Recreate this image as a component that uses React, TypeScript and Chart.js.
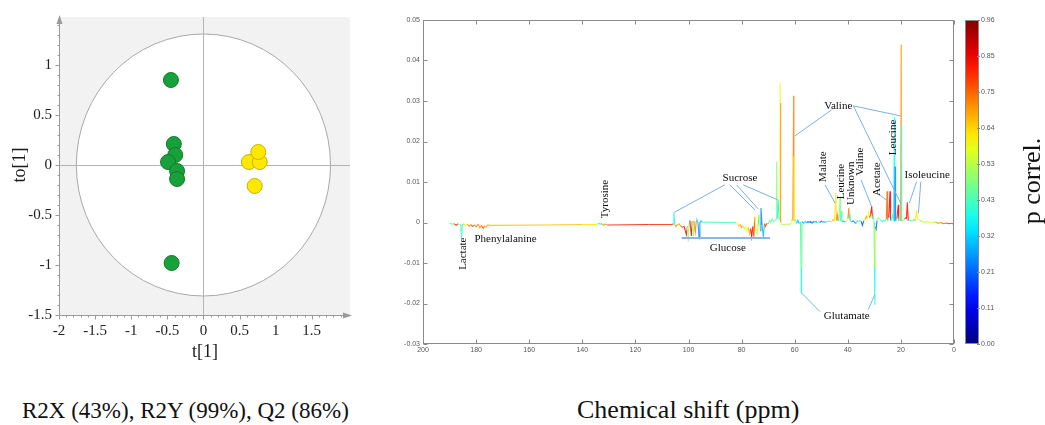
import React, { useEffect, useRef } from "react";
import { Chart, registerables } from "chart.js";

Chart.register(...registerables);

const SERIF = '"Liberation Serif", "Times New Roman", Times, serif';
const SANS = '"Liberation Sans", Arial, Helvetica, sans-serif';

// ---------- OPLS-DA score plot ----------
const groupAT = [-0.45, -0.41, -0.39, -0.49, -0.365, -0.365, -0.44];
const groupATo = [0.85, 0.21, 0.1, 0.03, -0.06, -0.14, -0.98];
const groupBT = [0.63, 0.78, 0.76, 0.71];
const groupBTo = [0.03, 0.03, 0.13, -0.21];
const scoreXTicks = [-2, -1.5, -1, -0.5, 0, 0.5, 1, 1.5];
const scoreYTicks = [-1.5, -1, -0.5, 0, 0.5, 1];
const scoreXRange = [-2, 2.03];
const scoreYRange = [-1.5, 1.48];
const ellipseRadii = [1.76, 1.31];

// ---------- S-line loadings (13C NMR) ----------
const shiftPpm = [
  190, 189, 188.3, 187.5, 186.8, 186.2, 185.8, 185.5, 185.2, 184.6,
  184, 183.3, 182.6, 182, 181.3, 180.6, 180, 179.2, 178.6, 178,
  177.3, 176.8, 176.2, 175.6, 175, 155, 140, 134.5, 134, 133.3,
  132.6, 132, 131.2, 130.5, 129.5, 115, 106.5, 105.8, 105.5, 105.2,
  104.7, 104.2, 103.6, 103, 102.3, 101.7, 101.2, 100.8, 100.4, 100.1,
  99.8, 99.5, 99.2, 98.9, 98.6, 98.3, 98, 97.7, 97.4, 97.1,
  96.8, 96.4, 96, 95.7, 95.3, 95, 82, 81.5, 81, 80.5,
  80, 79.5, 79, 78.5, 78, 77.5, 77, 76.6, 76.2, 75.8,
  75.4, 75, 74.6, 74.2, 73.8, 73.4, 73, 72.7, 72.3, 71.8,
  71.4, 71, 70.5, 70, 69.5, 69, 68.5, 68, 67.5, 67,
  66.8, 66.6, 66.2, 65.9, 65.6, 65.5, 65.45, 65.4, 65.2, 64.8,
  61.5, 61, 60.7, 60.4, 60.3, 60.25, 60.1, 59.7, 59.3, 58.8,
  58.3, 57.8, 57.5, 57.4, 57.35, 57.2, 56.5, 56, 55.5, 55,
  54.5, 54, 53.5, 53, 52.5, 52, 51.5, 51, 50.5, 50,
  49.5, 49, 48.5, 48, 47.5, 47, 46.5, 46, 45.5, 45,
  44.5, 44.3, 44, 43.7, 43.3, 42.9, 42.7, 42.5, 42.2, 41.5,
  41, 40.5, 40, 39.6, 39.4, 39.2, 39, 38.5, 38, 37.5,
  37, 36.5, 36, 35.5, 35, 34.5, 34, 33.5, 33, 32.6,
  32.2, 31.8, 31.4, 31, 30.7, 30.4, 30.1, 29.8, 29.75, 29.7,
  29.6, 29.3, 29, 28.5, 28, 27.5, 27, 26.5, 26, 25.5,
  25.2, 25, 24.6, 24.1, 23.9, 23.5, 23.2, 22.8, 22.4, 22.3,
  22.2, 22, 21.5, 21, 20.8, 20.5, 20.1, 19.9, 19.85, 19.8,
  19.6, 19.2, 18.8, 18.2, 17.9, 17.6, 17.2, 16.5, 16, 15.5,
  15, 14.5, 14.1, 13.8, 13.3, 12.8, 12, 11, 10, 9,
  8, 7, 6, 5, 4, 3, 2, 1, 0,
];
const loading = [
  -0.0002, -0.0004, -0.0003, -0.0007, -0.0003, -0.0005, -0.0006, -0.004, -0.0005, -0.0003,
  -0.0008, -0.0004, -0.0009, -0.0005, -0.001, -0.0006, -0.0011, -0.0004, -0.0013, -0.0007,
  -0.0015, -0.0008, -0.0012, -0.0005, -0.0007, -0.0006, -0.0005, -0.0005, -0.0002, -0.0004,
  -0.0003, -0.0007, -0.0004, -0.0006, -0.0006, -0.0005, -0.0005, -0.0004, 0.0025, -0.0005,
  -0.001, -0.0006, -0.0003, -0.0008, -0.0012, -0.0009, -0.002, -0.003, -0.001, -0.0047,
  -0.0002, 0.0005, -0.0015, -0.0033, 0.0003, -0.0032, 0.0004, -0.001, -0.0023, 0.0003,
  0.0006, -0.0002, -0.004, 0.0001, 0.0004, 0.0001, 0.0, -0.0003, -0.0009, -0.0005,
  -0.0012, -0.0008, -0.0016, -0.001, -0.0022, -0.0012, -0.0028, -0.0015, -0.0036, -0.001,
  -0.0035, 0.0014, -0.0015, -0.003, -0.0008, 0.0019, -0.002, 0.0036, -0.0006, -0.0037,
  -0.0003, -0.001, -0.0002, -0.0004, 0.0005, 0.0001, 0.0009, 0.0002, 0.0004, 0.0008,
  0.015, 0.001, 0.0056, 0.0008, 0.001, 0.0344, 0.001, 0.0295, 0.0, -0.0005,
  -0.0004, 0.0008, 0.0005, 0.0313, 0.001, 0.0163, 0.0003, 0.0006, -0.0002, 0.0005,
  -0.0003, 0.0001, -0.0174, -0.0003, -0.0115, 0.0002, -0.0002, 0.0003, -0.0001, 0.0002,
  0.0, 0.0003, -0.0002, 0.0002, 0.0001, 0.0003, -0.0001, 0.0002, 0.0, 0.0003,
  0.0001, 0.0002, 0.0, 0.0003, 0.0002, 0.0004, 0.0001, 0.0003, 0.0008, 0.0003,
  0.0073, 0.0005, 0.002, 0.0004, 0.0009, 0.0064, 0.0004, 0.0028, 0.0002, 0.0004,
  0.0001, 0.0003, 0.001, 0.0036, 0.0008, 0.0022, 0.0003, 0.0002, 0.0004, 0.0001,
  -0.0003, 0.0004, 0.0002, 0.0005, 0.0003, -0.0007, 0.0004, 0.0008, 0.0015, 0.0009,
  0.0025, 0.0012, 0.002, 0.004, 0.001, 0.0018, 0.0, -0.0203, -0.0005, -0.0113,
  -0.001, -0.0016, 0.0005, 0.0012, 0.0008, 0.0005, 0.0002, 0.0005, 0.0003, 0.0008,
  0.0077, 0.0005, 0.0012, 0.0077, 0.0004, 0.001, 0.0018, 0.0005, 0.026, 0.0003,
  0.0138, 0.0003, 0.001, 0.0044, 0.0005, 0.0015, 0.0004, 0.0439, 0.001, 0.024,
  0.0003, 0.0005, 0.0008, 0.0012, 0.0009, 0.005, 0.0004, 0.0006, 0.0003, 0.0005,
  0.0008, 0.0005, 0.0031, 0.001, 0.0008, 0.0004, 0.0003, 0.0001, 0.0002, 0.0,
  -0.0001, 0.0001, -0.0002, 0.0, -0.0003, -0.0001, -0.0003, -0.0002, -0.0004,
];
const pCorr = [
  0.35, 0.45, 0.75, 0.8, 0.4, 0.55, 0.38, 0.42, 0.42, 0.35,
  0.6, 0.8, 0.7, 0.62, 0.78, 0.65, 0.72, 0.6, 0.7, 0.62,
  0.75, 0.58, 0.68, 0.45, 0.66, 0.66, 0.63, 0.62, 0.4, 0.35,
  0.5, 0.7, 0.72, 0.7, 0.82, 0.82, 0.8, 0.4, 0.37, 0.37,
  0.7, 0.68, 0.55, 0.7, 0.75, 0.8, 0.85, 0.86, 0.8, 0.5,
  0.45, 0.38, 0.82, 0.84, 0.4, 0.5, 0.35, 0.7, 0.72, 0.33,
  0.3, 0.35, 0.25, 0.3, 0.3, 0.42, 0.42, 0.6, 0.65, 0.62,
  0.7, 0.55, 0.62, 0.75, 0.58, 0.72, 0.68, 0.42, 0.85, 0.5,
  0.78, 0.22, 0.6, 0.55, 0.65, 0.35, 0.62, 0.25, 0.5, 0.3,
  0.6, 0.78, 0.8, 0.7, 0.45, 0.4, 0.45, 0.42, 0.45, 0.45,
  0.48, 0.45, 0.36, 0.4, 0.4, 0.58, 0.6, 0.7, 0.55, 0.52,
  0.52, 0.6, 0.65, 0.72, 0.7, 0.62, 0.6, 0.45, 0.35, 0.3,
  0.4, 0.42, 0.38, 0.4, 0.5, 0.35, 0.25, 0.35, 0.3, 0.2,
  0.4, 0.25, 0.33, 0.22, 0.4, 0.3, 0.25, 0.45, 0.3, 0.22,
  0.4, 0.3, 0.25, 0.35, 0.3, 0.45, 0.62, 0.5, 0.65, 0.6,
  0.62, 0.55, 0.72, 0.4, 0.35, 0.48, 0.4, 0.42, 0.35, 0.3,
  0.25, 0.4, 0.6, 0.72, 0.45, 0.38, 0.35, 0.3, 0.25, 0.35,
  0.2, 0.4, 0.3, 0.45, 0.35, 0.2, 0.4, 0.62, 0.7, 0.55,
  0.6, 0.72, 0.8, 0.86, 0.6, 0.45, 0.3, 0.37, 0.4, 0.6,
  0.25, 0.22, 0.42, 0.5, 0.45, 0.35, 0.3, 0.4, 0.35, 0.45,
  0.75, 0.6, 0.4, 0.85, 0.5, 0.35, 0.4, 0.3, 0.38, 0.3,
  0.25, 0.3, 0.4, 0.85, 0.5, 0.45, 0.35, 0.7, 0.6, 0.38,
  0.3, 0.45, 0.5, 0.75, 0.7, 0.83, 0.45, 0.4, 0.35, 0.5,
  0.45, 0.6, 0.62, 0.55, 0.6, 0.45, 0.55, 0.4, 0.55, 0.5,
  0.6, 0.45, 0.7, 0.5, 0.75, 0.55, 0.8, 0.65, 0.78,
];
const shiftTicks = [200, 180, 160, 140, 120, 100, 80, 60, 40, 20, 0];
const loadingTicks = [-0.03, -0.02, -0.01, 0, 0.01, 0.02, 0.03, 0.04, 0.05];
const corrMax = 0.96;
const corrTickValues = [0, 0.1067, 0.2133, 0.32, 0.4267, 0.5333, 0.64, 0.7467, 0.8533, 0.96];
const corrTickLabels = ["0.00", "0.11", "0.21", "0.32", "0.43", "0.53", "0.64", "0.75", "0.85", "0.96"];

// metabolite labels (ppm, loading, vertical?)
const labelText = ["Lactate", "Phenylalanine", "Tyrosine", "Sucrose", "Glucose", "Valine", "Malate", "Leucine", "Unknown", "Valine", "Acetate", "Leucine", "Isoleucine", "Glutamate"];
const labelPpm = [184.9, 168.9, 131.5, 80.6, 85.2, 43.6, 49.3, 42.7, 38.9, 35.5, 29.1, 23.1, 10.1, 40.4];
const labelVal = [-0.0077, -0.004, 0.0058, 0.011, -0.0063, 0.0288, 0.0138, 0.0101, 0.0097, 0.015, 0.0107, 0.021, 0.0118, -0.0232];
const labelVertical = [true, false, true, false, false, false, true, true, true, true, true, true, false, false];

// leader lines: from (ppm0, val0) to (ppm1, val1)
const leaderPpm0 = [86.3, 84.4, 81.9, 79.4, 46.1, 37.9, 37.9, 48.6, 35.0, 28.9, 14.1, 12.5, 50.5, 32.3];
const leaderVal0 = [0.0093, 0.0093, 0.0093, 0.0093, 0.0278, 0.0288, 0.0288, 0.0093, 0.0105, 0.0073, 0.0101, 0.0101, -0.022, -0.0215];
const leaderPpm1 = [105.4, 75.0, 73.8, 66.4, 59.9, 19.97, 19.97, 44.8, 31.0, 25.6, 16.8, 13.4, 57.4, 29.8];
const leaderVal1 = [0.0025, 0.0031, 0.0034, 0.0056, 0.0214, 0.0263, 0.0046, 0.0048, 0.0039, 0.0056, 0.0048, 0.0023, -0.0174, -0.0178];
// glucose bracket: ppm from, ppm to, loading level
const glucoseBar = [102.6, 69.3, -0.0038];

function jetRGB(c: number) {
  const t = Math.max(0, Math.min(1, c / corrMax));
  const f = (v: number) => 255 * Math.max(0, Math.min(1, 1.5 - Math.abs(4 * t - v)));
  return [f(3), f(2), f(1)];
}
function jet(c: number) {
  const [r, g, b] = jetRGB(c);
  return `rgb(${Math.round(r)},${Math.round(g)},${Math.round(b)})`;
}
function jetSoft(c: number) {
  const [r, g, b] = jetRGB(c);
  const m = (v: number) => Math.round(v * 0.85 + 255 * 0.15);
  return `rgb(${m(r)},${m(g)},${m(b)})`;
}

const scoreDecor = {
  id: "scoreDecor",
  beforeDatasetsDraw(chart: any) {
    const { ctx, chartArea: a, scales } = chart;
    const x = scales.x, y = scales.y;
    ctx.save();
    ctx.fillStyle = "#f2f2f2";
    ctx.fillRect(a.left, a.top, a.right - a.left, a.bottom - a.top);
    const cx = x.getPixelForValue(0), cy = y.getPixelForValue(0);
    const rx = x.getPixelForValue(ellipseRadii[0]) - cx;
    const ry = cy - y.getPixelForValue(ellipseRadii[1]);
    ctx.beginPath();
    ctx.ellipse(cx, cy, rx, ry, 0, 0, Math.PI * 2);
    ctx.fillStyle = "#ffffff";
    ctx.fill();
    ctx.strokeStyle = "#a9a9a9";
    ctx.lineWidth = 1;
    ctx.stroke();
    ctx.strokeStyle = "#b4b4b4";
    ctx.beginPath();
    ctx.moveTo(Math.round(cx) + 0.5, a.top);
    ctx.lineTo(Math.round(cx) + 0.5, a.bottom);
    ctx.moveTo(a.left, Math.round(cy) + 0.5);
    ctx.lineTo(a.right, Math.round(cy) + 0.5);
    ctx.stroke();
    ctx.restore();
  },
  afterDraw(chart: any) {
    const { ctx, chartArea: a, scales } = chart;
    const x = scales.x, y = scales.y;
    ctx.save();
    ctx.strokeStyle = "#9a9a9a";
    ctx.fillStyle = "#9a9a9a";
    ctx.lineWidth = 1;
    const lx = Math.round(a.left) + 0.5, by = Math.round(a.bottom) + 0.5;
    ctx.beginPath();
    ctx.moveTo(lx, a.bottom);
    ctx.lineTo(lx, a.top + 2);
    ctx.moveTo(a.left, by);
    ctx.lineTo(a.right - 2, by);
    scoreYTicks.forEach((v) => { const p = Math.round(y.getPixelForValue(v)) + 0.5; ctx.moveTo(lx - 4, p); ctx.lineTo(lx, p); });
    scoreXTicks.forEach((v) => { const p = Math.round(x.getPixelForValue(v)) + 0.5; ctx.moveTo(p, by); ctx.lineTo(p, by + 4); });
    for (let k = -15; k <= 14; k++) { const p = Math.round(y.getPixelForValue(k / 10)) + 0.5; ctx.moveTo(lx - 2, p); ctx.lineTo(lx, p); }
    for (let k = -20; k <= 19; k++) { const p = Math.round(x.getPixelForValue(k / 10)) + 0.5; ctx.moveTo(p, by); ctx.lineTo(p, by + 2); }
    ctx.stroke();
    ctx.beginPath();
    ctx.moveTo(lx, a.top - 2); ctx.lineTo(lx - 3, a.top + 7); ctx.lineTo(lx + 3, a.top + 7); ctx.closePath();
    ctx.moveTo(a.right + 2, by); ctx.lineTo(a.right - 7, by - 3); ctx.lineTo(a.right - 7, by + 3); ctx.closePath();
    ctx.fill();
    ctx.fillStyle = "#1a1a1a";
    ctx.font = `18px ${SERIF}`;
    ctx.textAlign = "center";
    ctx.textBaseline = "middle";
    ctx.fillText("t[1]", 205, 352);
    ctx.translate(20, 165);
    ctx.rotate(-Math.PI / 2);
    ctx.fillText("to[1]", 0, 0);
    ctx.restore();
  },
};

const loadingDecor = {
  id: "loadingDecor",
  afterDatasetsDraw(chart: any) {
    const { ctx, scales } = chart;
    const x = scales.x, y = scales.y;
    ctx.save();
    ctx.strokeStyle = "#8fb4e0";
    ctx.lineWidth = 2;
    ctx.beginPath();
    ctx.moveTo(x.getPixelForValue(glucoseBar[0]), y.getPixelForValue(glucoseBar[2]));
    ctx.lineTo(x.getPixelForValue(glucoseBar[1]), y.getPixelForValue(glucoseBar[2]));
    ctx.stroke();
    ctx.strokeStyle = "#7db0e0";
    ctx.lineWidth = 1;
    ctx.beginPath();
    leaderPpm0.forEach((p0, i) => {
      ctx.moveTo(x.getPixelForValue(p0), y.getPixelForValue(leaderVal0[i]));
      ctx.lineTo(x.getPixelForValue(leaderPpm1[i]), y.getPixelForValue(leaderVal1[i]));
    });
    ctx.stroke();
    ctx.fillStyle = "#0d0d0d";
    ctx.font = `11px ${SERIF}`;
    ctx.textAlign = "center";
    ctx.textBaseline = "middle";
    labelText.forEach((t, i) => {
      const px = x.getPixelForValue(labelPpm[i]);
      const py = y.getPixelForValue(labelVal[i]);
      if (labelVertical[i]) {
        ctx.save();
        ctx.translate(px, py);
        ctx.rotate(-Math.PI / 2);
        ctx.fillText(t, 0, 0);
        ctx.restore();
      } else {
        ctx.fillText(t, px, py);
      }
    });
    ctx.restore();
  },
  afterDraw(chart: any) {
    const { ctx, chartArea: a, scales } = chart;
    const x = scales.x, y = scales.y, cb = scales.cbar;
    ctx.save();
    ctx.strokeStyle = "#8a8a8a";
    ctx.lineWidth = 1;
    const L = Math.round(a.left) + 0.5, R = Math.round(a.right) - 0.5;
    const T = Math.round(a.top) + 0.5, B = Math.round(a.bottom) - 0.5;
    ctx.strokeRect(L, T, R - L, B - T);
    ctx.beginPath();
    shiftTicks.forEach((v) => {
      const p = Math.round(x.getPixelForValue(v)) + 0.5;
      ctx.moveTo(p, B); ctx.lineTo(p, B - 4);
      ctx.moveTo(p, T); ctx.lineTo(p, T + 4);
    });
    loadingTicks.forEach((v) => {
      const p = Math.round(y.getPixelForValue(v)) + 0.5;
      ctx.moveTo(L, p); ctx.lineTo(L + 4, p);
      ctx.moveTo(R, p); ctx.lineTo(R - 4, p);
    });
    ctx.stroke();
    const bx = a.right + 11, bw = 14;
    const top = cb.getPixelForValue(corrMax), bot = cb.getPixelForValue(0);
    const g = ctx.createLinearGradient(0, bot, 0, top);
    for (let k = 0; k <= 20; k++) g.addColorStop(k / 20, jet((k / 20) * corrMax));
    ctx.fillStyle = g;
    ctx.fillRect(bx, top, bw, bot - top);
    ctx.strokeStyle = "#8a8a8a";
    ctx.strokeRect(bx + 0.5, top + 0.5, bw - 1, bot - top - 1);
    ctx.fillStyle = "#555";
    ctx.font = `7px ${SANS}`;
    ctx.textAlign = "left";
    ctx.textBaseline = "middle";
    ctx.beginPath();
    corrTickValues.forEach((v, i) => {
      const p = Math.round(cb.getPixelForValue(v)) + 0.5;
      ctx.moveTo(bx + bw - 2, p); ctx.lineTo(bx + bw + 1, p);
      ctx.fillText(corrTickLabels[i], bx + bw + 2, p);
    });
    ctx.stroke();
    ctx.fillStyle = "#111";
    ctx.font = `26px ${SERIF}`;
    ctx.textAlign = "center";
    ctx.translate(663, 181);
    ctx.rotate(-Math.PI / 2);
    ctx.fillText("p correl.", 0, 0);
    ctx.restore();
  },
};

export default function App() {
  const leftRef = useRef<HTMLCanvasElement>(null);
  const rightRef = useRef<HTMLCanvasElement>(null);

  useEffect(() => {
    const score = new Chart(leftRef.current as HTMLCanvasElement, {
      type: "scatter",
      data: {
        datasets: [
          {
            data: groupAT.map((t, i) => ({ x: t, y: groupATo[i] })),
            pointRadius: 7.5,
            pointBackgroundColor: "#18a03b",
            pointBorderColor: "#0f7d2b",
            pointBorderWidth: 1,
          },
          {
            data: groupBT.map((t, i) => ({ x: t, y: groupBTo[i] })),
            pointRadius: 7.5,
            pointBackgroundColor: "#ffe800",
            pointBorderColor: "#c8b300",
            pointBorderWidth: 1,
          },
        ],
      },
      options: {
        animation: false,
        responsive: false,
        events: [],
        plugins: { legend: { display: false }, tooltip: { enabled: false } },
        layout: { padding: { left: 0, top: 17, right: 10, bottom: 0 } },
        scales: {
          x: {
            type: "linear",
            min: scoreXRange[0],
            max: scoreXRange[1],
            afterBuildTicks: (s: any) => { s.ticks = scoreXTicks.map((v) => ({ value: v })); },
            afterFit: (s: any) => { s.height = 55; },
            grid: { display: false, drawTicks: false },
            border: { display: false },
            ticks: { autoSkip: false, maxRotation: 0, padding: 7, color: "#222", font: { family: SERIF, size: 15 }, callback: (v: any) => String(v) },
          },
          y: {
            type: "linear",
            min: scoreYRange[0],
            max: scoreYRange[1],
            afterBuildTicks: (s: any) => { s.ticks = scoreYTicks.map((v) => ({ value: v })); },
            afterFit: (s: any) => { s.width = 59; },
            grid: { display: false, drawTicks: false },
            border: { display: false },
            ticks: { autoSkip: false, padding: 7, color: "#222", font: { family: SERIF, size: 15 }, callback: (v: any) => String(v) },
          },
        },
      },
      plugins: [scoreDecor],
    } as any);

    const loadings = new Chart(rightRef.current as HTMLCanvasElement, {
      type: "scatter",
      data: {
        datasets: [
          {
            data: shiftPpm.map((p, i) => ({ x: p, y: loading[i] })),
            showLine: true,
            pointRadius: 0,
            borderWidth: 1.1,
            borderColor: "#00c0c0",
            segment: {
              borderColor: (sc: any) => {
                const i0 = sc.p0DataIndex, i1 = sc.p1DataIndex;
                const i = Math.abs(loading[i1]) >= Math.abs(loading[i0]) ? i1 : i0;
                return jetSoft(pCorr[i]);
              },
            },
          },
        ],
      },
      options: {
        animation: false,
        responsive: false,
        events: [],
        plugins: { legend: { display: false }, tooltip: { enabled: false } },
        layout: { padding: { left: 0, top: 20, right: 91, bottom: 0 } },
        scales: {
          x: {
            type: "linear",
            reverse: true,
            min: 0,
            max: 200,
            afterBuildTicks: (s: any) => { s.ticks = shiftTicks.map((v) => ({ value: v })); },
            afterFit: (s: any) => { s.height = 26; },
            grid: { display: false, drawTicks: false },
            border: { display: false },
            ticks: { autoSkip: false, maxRotation: 0, padding: 2, color: "#555", font: { family: SANS, size: 7 }, callback: (v: any) => String(v) },
          },
          y: {
            type: "linear",
            min: -0.03,
            max: 0.05,
            afterBuildTicks: (s: any) => { s.ticks = loadingTicks.map((v) => ({ value: v })); },
            afterFit: (s: any) => { s.width = 53; },
            grid: { display: false, drawTicks: false },
            border: { display: false },
            ticks: { autoSkip: false, padding: 3, color: "#555", font: { family: SANS, size: 7 }, callback: (v: any) => String(v) },
          },
          cbar: { type: "linear", display: false, position: "right", min: 0, max: corrMax },
        },
      },
      plugins: [loadingDecor],
    } as any);

    return () => {
      score.destroy();
      loadings.destroy();
    };
  }, []);

  return (
    <div style={{ position: "absolute", left: 0, top: 0, width: 1045, height: 425, background: "#fff", overflow: "hidden" }}>
      <canvas ref={leftRef} width={360} height={370} style={{ position: "absolute", left: 0, top: 0, width: 360, height: 370 }} />
      <canvas ref={rightRef} width={675} height={370} style={{ position: "absolute", left: 370, top: 0, width: 675, height: 370 }} />
      <div style={{ position: "absolute", left: 22, top: 398, lineHeight: "26px", fontSize: 23, fontFamily: SERIF, color: "#111", whiteSpace: "nowrap" }}>
        R2X (43%), R2Y (99%), Q2 (86%)
      </div>
      <div style={{ position: "absolute", left: 577, top: 395, lineHeight: "30px", fontSize: 26, fontFamily: SERIF, color: "#111", whiteSpace: "nowrap" }}>
        Chemical shift (ppm)
      </div>
    </div>
  );
}
